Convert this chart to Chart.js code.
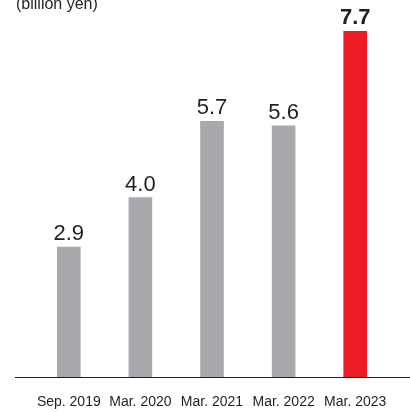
<!DOCTYPE html>
<html>
<head>
<meta charset="utf-8">
<script src="https://cdn.jsdelivr.net/npm/chart.js@4"></script>
<style>
    html, body { margin: 0; padding: 0; background: #fff; }
    #wrap { width: 410px; height: 412px; position: relative; }
</style>
</head>
<body>
<div id="wrap"><canvas id="chart"></canvas></div>
<script>
// ============================================
// DATA
// ============================================

const periods = ['Sep. 2019', 'Mar. 2020', 'Mar. 2021', 'Mar. 2022', 'Mar. 2023'];
const amounts = [2.9, 4.0, 5.7, 5.6, 7.7];
const unitLabel = '(billion yen)';

const GRAY = '#a7a9ac';
const RED = '#ed1c24';
const TEXT = '#231f20';
const FONT = '"Liberation Sans", Arial, Helvetica, sans-serif';

// last bar is highlighted
const barColors = amounts.map((v, i) => i === amounts.length - 1 ? RED : GRAY);

// ============================================
// PLUGINS
// ============================================

// value labels above bars, unit caption, baseline
const decorations = {
    id: 'decorations',
    afterDatasetsDraw(chart) {
        const ctx = chart.ctx;
        const meta = chart.getDatasetMeta(0);
        const area = chart.chartArea;
        ctx.save();

        // baseline
        ctx.strokeStyle = TEXT;
        ctx.lineWidth = 1;
        ctx.beginPath();
        ctx.moveTo(15, Math.round(area.bottom) + 0.5);
        ctx.lineTo(410, Math.round(area.bottom) + 0.5);
        ctx.stroke();

        // values
        ctx.fillStyle = TEXT;
        ctx.textAlign = 'center';
        ctx.textBaseline = 'alphabetic';
        meta.data.forEach((bar, i) => {
            const last = i === amounts.length - 1;
            ctx.font = (last ? 'bold ' : '') + '22px ' + FONT;
            ctx.fillText(amounts[i].toFixed(1), bar.x, bar.y - 7);
        });

        // unit caption
        ctx.font = '16px ' + FONT;
        ctx.textAlign = 'left';
        ctx.fillText(unitLabel, 16, 9);
        ctx.restore();
    }
};

// ============================================
// CHART
// ============================================

new Chart(document.getElementById('chart'), {
    type: 'bar',
    data: {
        labels: periods,
        datasets: [{
            data: amounts,
            backgroundColor: barColors,
            borderWidth: 0,
            barThickness: 23
        }]
    },
    options: {
        responsive: true,
        maintainAspectRatio: false,
        animation: false,
        events: [],
        layout: { padding: { left: 33, right: 19, top: 0, bottom: -16 } },
        plugins: {
            legend: { display: false },
            tooltip: { enabled: false },
            title: { display: false }
        },
        scales: {
            x: {
                grid: { display: false, drawTicks: false },
                border: { display: false },
                ticks: {
                    color: TEXT,
                    padding: 17,
                    maxRotation: 0,
                    autoSkip: false,
                    font: { family: FONT, size: 14 }
                }
            },
            y: {
                display: false,
                min: 0,
                max: 8.4
            }
        }
    },
    plugins: [decorations]
});
</script>
</body>
</html>
